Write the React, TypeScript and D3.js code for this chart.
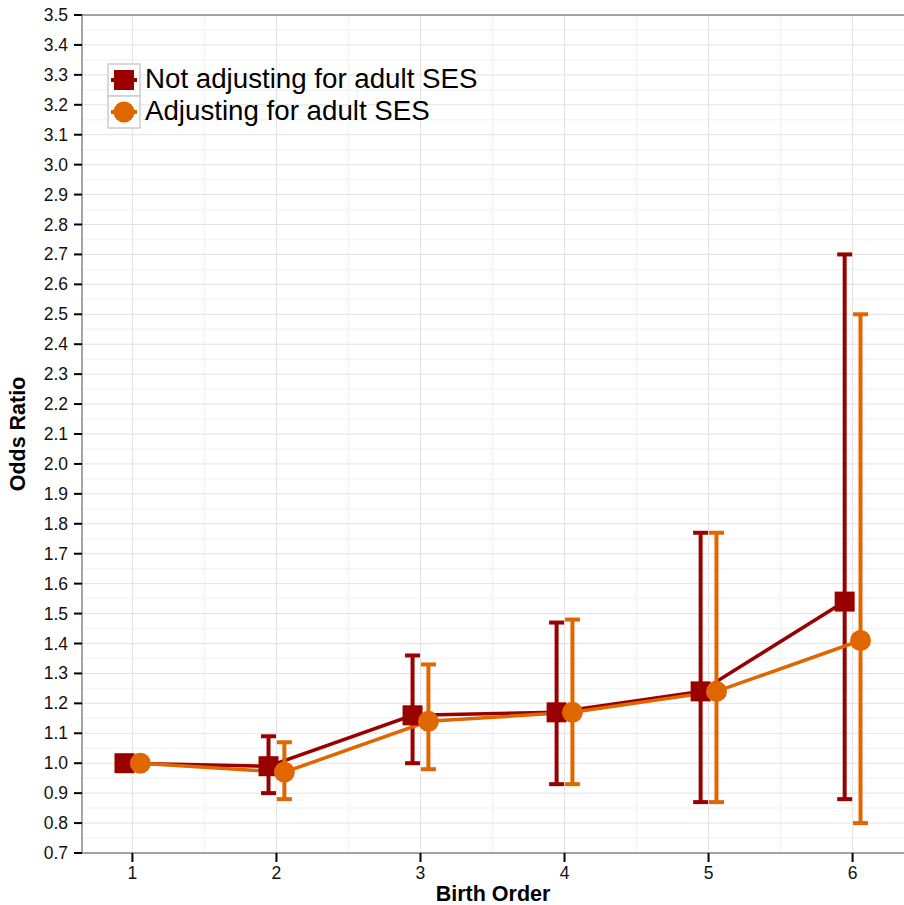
import * as d3 from "d3"

const birthOrder = [1, 2, 3, 4, 5, 6]
const notAdjOR = [1.0, 0.99, 1.16, 1.17, 1.24, 1.54]
const notAdjLow = [null, 0.9, 1.0, 0.93, 0.87, 0.88]
const notAdjHigh = [null, 1.09, 1.36, 1.47, 1.77, 2.7]
const adjOR = [1.0, 0.97, 1.14, 1.17, 1.24, 1.41]
const adjLow = [null, 0.88, 0.98, 0.93, 0.87, 0.8]
const adjHigh = [null, 1.07, 1.33, 1.48, 1.77, 2.5]
const yTicks = d3.range(7, 36).map((v) => v / 10)
const seriesNames = ["Not adjusting for adult SES", "Adjusting for adult SES"]

const RED = "#990000"
const ORANGE = "#e06600"
const FONT = "'Liberation Sans', Arial, Helvetica, sans-serif"

export default function App() {
  const width = 904
  const height = 905
  const M = { left: 82, top: 15, right: 1, bottom: 52 }
  const x = d3.scaleLinear().domain([0.65, 6.35]).range([M.left, width - M.right])
  const y = d3.scaleLinear().domain([0.7, 3.5]).range([height - M.bottom, M.top])
  const dodge = 0.055

  const series = [
    { name: seriesNames[0], or: notAdjOR, lo: notAdjLow, hi: notAdjHigh, color: RED, off: -dodge, shape: "square" },
    { name: seriesNames[1], or: adjOR, lo: adjLow, hi: adjHigh, color: ORANGE, off: dodge, shape: "circle" },
  ]

  const line = d3.line<number>()
    .x((_, i) => x(birthOrder[i]))
    .y((d) => y(d))

  const minorX = d3.range(0.5, 6.5, 1).filter((v) => v > 0.65)
  const minorY = d3.range(0.75, 3.5, 0.1)
  const y0 = height - M.bottom

  return (
    <svg width={width} height={height} style={{ display: "block", position: "absolute", left: 0, top: 0 }} fontFamily={FONT}>
      <rect width={width} height={height} fill="#fff" />
      {/* grid */}
      {minorX.map((v) => (
        <line key={"mx" + v} x1={x(v)} x2={x(v)} y1={M.top} y2={y0} stroke="#f4f4f4" strokeWidth={1.5} />
      ))}
      {minorY.map((v) => (
        <line key={"my" + v} x1={M.left} x2={width} y1={y(v)} y2={y(v)} stroke="#f4f4f4" strokeWidth={1.5} />
      ))}
      {birthOrder.map((v) => (
        <line key={"gx" + v} x1={x(v)} x2={x(v)} y1={M.top} y2={y0} stroke="#e2e2e2" strokeWidth={1} />
      ))}
      {yTicks.map((v) => (
        <line key={"gy" + v} x1={M.left} x2={width} y1={y(v)} y2={y(v)} stroke="#e2e2e2" strokeWidth={1} />
      ))}
      {/* axes */}
      <line x1={M.left} x2={width} y1={M.top} y2={M.top} stroke="#888" strokeWidth={1.5} />
      <line x1={M.left} x2={M.left} y1={M.top} y2={y0} stroke="#888" strokeWidth={1.5} />
      <line x1={M.left} x2={width} y1={y0} y2={y0} stroke="#888" strokeWidth={1.5} />
      {yTicks.map((v) => (
        <g key={"ty" + v}>
          <line x1={M.left - 8} x2={M.left} y1={y(v)} y2={y(v)} stroke="#000" strokeWidth={2} />
          <text x={M.left - 14} y={y(v) + 6} textAnchor="end" fontSize={17.5} fill="#111">
            {v.toFixed(1)}
          </text>
        </g>
      ))}
      {birthOrder.map((v) => (
        <g key={"tx" + v}>
          <line x1={x(v)} x2={x(v)} y1={y0} y2={y0 + 9} stroke="#000" strokeWidth={2} />
          <text x={x(v)} y={y0 + 26} textAnchor="middle" fontSize={17.5} fill="#111">
            {v}
          </text>
        </g>
      ))}
      <text x={(M.left + width) / 2} y={height - 4} textAnchor="middle" fontSize={21.5} fontWeight="bold">
        Birth Order
      </text>
      <text
        transform={`translate(25,${(M.top + y0) / 2}) rotate(-90)`}
        textAnchor="middle"
        fontSize={21.5}
        fontWeight="bold"
      >
        Odds Ratio
      </text>
      {/* series */}
      {series.map((s) => (
        <g key={s.name} transform={`translate(${x(s.off) - x(0)},0)`}>
          <path d={line(s.or) || ""} fill="none" stroke={s.color} strokeWidth={3.5} />
          {birthOrder.map((b, i) => {
            const lo = s.lo[i]
            const hi = s.hi[i]
            if (lo == null || hi == null) return null
            return (
              <g key={b} stroke={s.color} strokeWidth={4}>
                <line x1={x(b)} x2={x(b)} y1={y(lo)} y2={y(hi)} />
                <line x1={x(b) - 7.5} x2={x(b) + 7.5} y1={y(lo)} y2={y(lo)} />
                <line x1={x(b) - 7.5} x2={x(b) + 7.5} y1={y(hi)} y2={y(hi)} />
              </g>
            )
          })}
        </g>
      ))}
      {series.map((s) => (
        <g key={s.name + "pts"} transform={`translate(${x(s.off) - x(0)},0)`}>
          {birthOrder.map((b, i) =>
            s.shape === "square" ? (
              <rect key={b} x={x(b) - 10} y={y(s.or[i]) - 10} width={20} height={20} fill={s.color} />
            ) : (
              <circle key={b} cx={x(b)} cy={y(s.or[i])} r={10.5} fill={s.color} />
            )
          )}
        </g>
      ))}
      {/* legend */}
      {series.map((s, i) => {
        const ly = 64 + i * 32
        return (
          <g key={s.name + "leg"}>
            <rect x={108} y={ly} width={32} height={32} fill="#fff" stroke="#ccc" strokeWidth={1.5} />
            <line x1={111} x2={137} y1={ly + 16} y2={ly + 16} stroke={s.color} strokeWidth={4} />
            {s.shape === "square" ? (
              <rect x={114} y={ly + 6} width={20} height={20} fill={s.color} />
            ) : (
              <circle cx={124} cy={ly + 16} r={10.5} fill={s.color} />
            )}
            <text x={145} y={ly + 24} fontSize={27.7} fill="#000">
              {s.name}
            </text>
          </g>
        )
      })}
    </svg>
  )
}
